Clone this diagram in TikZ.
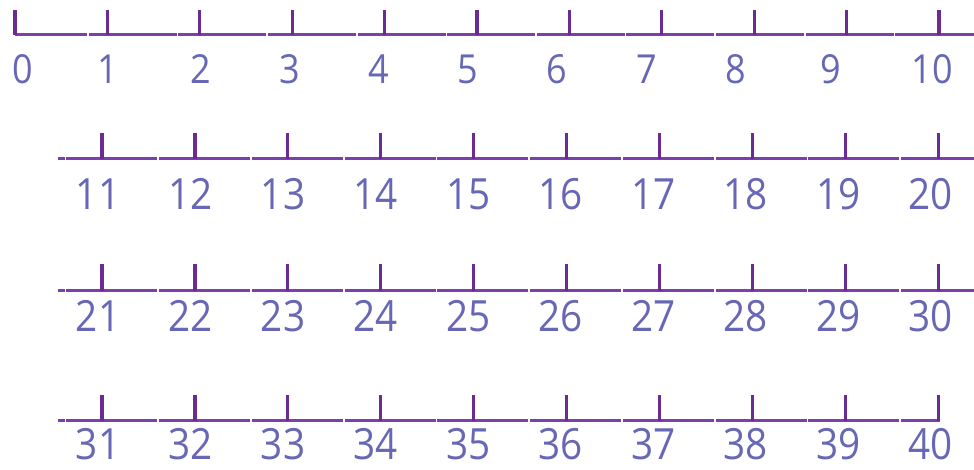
\documentclass[tikz,border=0pt]{standalone}
\usepackage{fontspec}
\setmainfont{Open Sans}[FakeStretch=0.9]
\definecolor{linec}{HTML}{7B3FAE}
\definecolor{tickc}{HTML}{6A2C94}
\definecolor{labc}{HTML}{6767B5}
\begin{document}
\begin{tikzpicture}[x=1pt,y=-1pt,
  axis/.style={draw=linec, line width=3pt},
  gapmark/.style={draw=white, line width=1.6pt},
  tickmark/.style={draw=tickc, line width=3.2pt},
  labA/.style={text=labc, font=\fontsize{40}{40}\selectfont, inner sep=0pt, anchor=center},
  labB/.style={text=labc, font=\fontsize{43}{43}\selectfont, inner sep=0pt, anchor=center}]
\useasboundingbox (0,0) rectangle (974,469);
% ---------- row 1 : 0 .. 10 ----------
\draw[axis] (15,34) -- (974,34);
\foreach \k in {1,...,10}{
  \pgfmathsetmacro\g{88+89.6*(\k-1)}
  \draw[gapmark] (\g,31) -- (\g,37);
}
\foreach \k in {0,...,10}{
  \pgfmathsetmacro\t{15+92.4*\k}
  \draw[tickmark] (\t,10) -- (\t,35);
}
\foreach \k/\lx in {0/23,1/108,2/201,3/290,4/379,5/468,6/557,7/647,8/736,9/831,10/932}{
  \node[labA] (l\k) at (\lx,69) {\k};
}
% ---------- rows 2..4 ----------
\foreach \r/\ly/\ty/\lab/\xe in {1/158/133/194/974, 2/290/264/316/974, 3/420/395/444/940}{
  \draw[axis] (58,\ly) -- (\xe,\ly);
  \foreach \k in {1,...,10}{
    \pgfmathsetmacro\g{65.5+92.75*(\k-1)}
    \draw[gapmark] (\g,\ly-3) -- (\g,\ly+3);
  }
  \foreach \k in {1,...,10}{
    \pgfmathsetmacro\t{102+92.9*(\k-1)}
    \draw[tickmark] (\t,\ty) -- (\t,\ly+1);
    \pgfmathtruncatemacro\n{10*\r+\k}
    \pgfmathsetmacro\lx{98+92.55*(\k-1)}
    \node[labB] (l\n) at (\lx,\lab) {\n};
  }
}
\end{tikzpicture}
\end{document}
